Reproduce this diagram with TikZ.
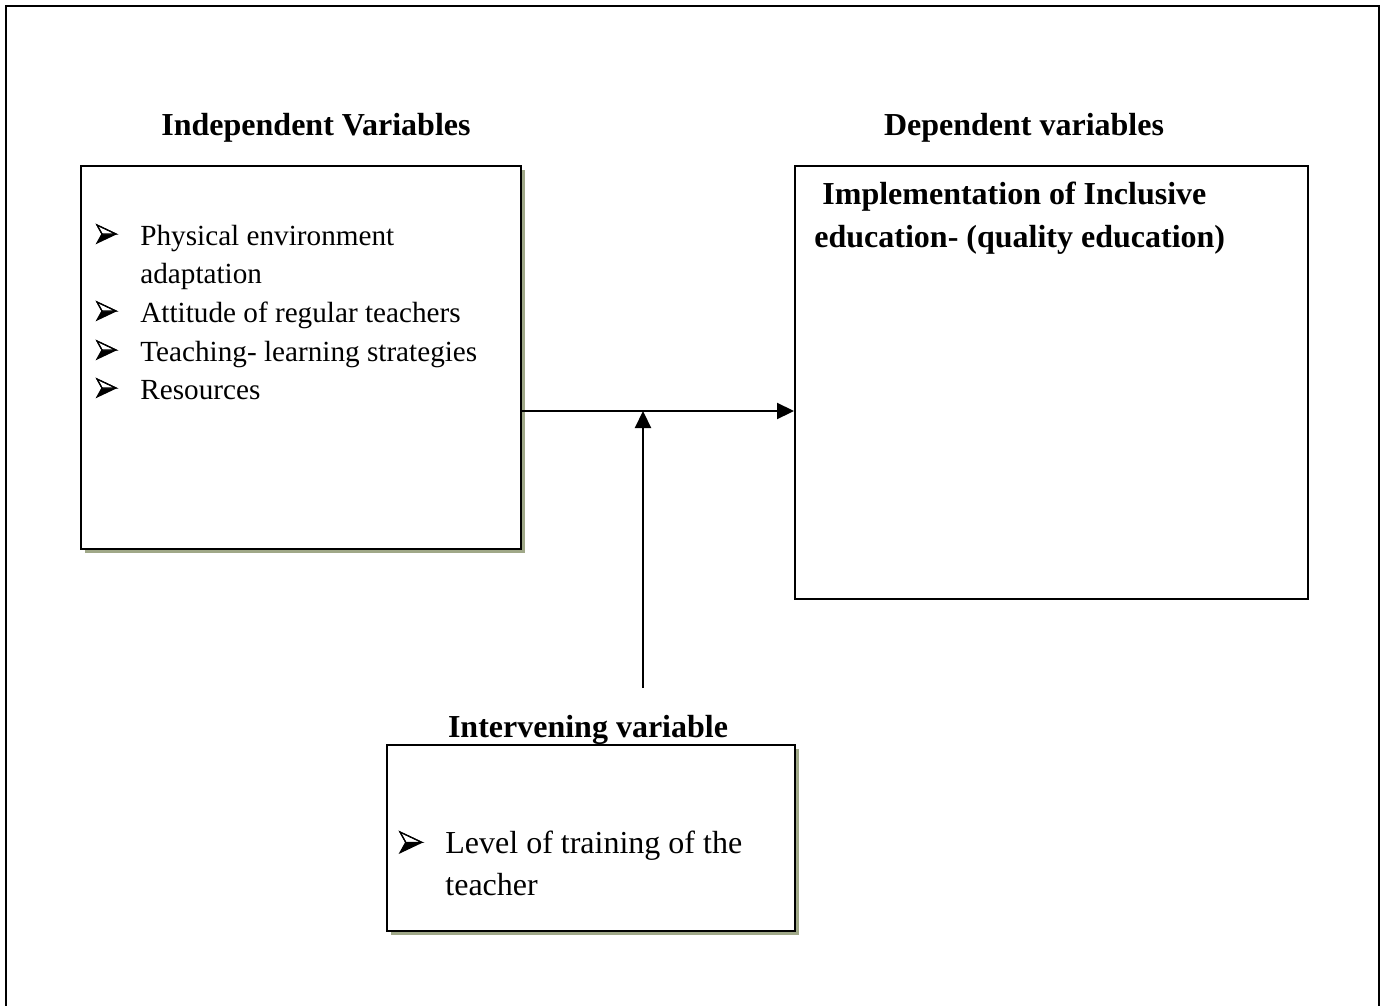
\documentclass[tikz,border=0pt]{standalone}
\usepackage{fontspec}
\setmainfont{Liberation Serif}
\usetikzlibrary{arrows.meta,shadows}
\definecolor{shadowcol}{RGB}{160,168,136}
\tikzset{
  boxsty/.style={draw=black, line width=1.1pt, fill=white, rectangle, inner sep=0pt, anchor=north west,
    drop shadow={shadow xshift=2pt, shadow yshift=-2pt, fill=shadowcol, opacity=1}},
  plainbox/.style={draw=black, line width=1.1pt, fill=white, rectangle, inner sep=0pt, anchor=north west},
  txt/.style={anchor=base west, inner sep=0pt, font=\fontsize{14.6}{17}\selectfont},
  bigtxt/.style={anchor=base west, inner sep=0pt, font=\fontsize{16}{18}\selectfont},
  ttl/.style={anchor=base, inner sep=0pt, font=\fontsize{16}{18}\selectfont\bfseries},
  btxt/.style={anchor=base west, inner sep=0pt, font=\fontsize{16}{18}\selectfont\bfseries},
  arr/.style={line width=1.1pt, -{Triangle[length=8.5pt,width=8pt]}},
  pics/bullet/.style={code={
    \fill[black] (5,9) -- (19,9) -- (0,18) -- cycle;
    \filldraw[fill=white, draw=black, line width=0.6pt, line join=miter] (0,0) -- (19,9) -- (5,9) -- cycle;
    \draw[black, line width=0.6pt, line join=miter] (0,0) -- (19,9) -- (0,18) -- (5,9) -- cycle;
  }}
}
\begin{document}
\begin{tikzpicture}[x=0.5pt,y=-0.5pt]
\useasboundingbox (0,0) rectangle (1387,1006);
% outer frame
\draw[line width=1pt] (6,1020) -- (6,6) -- (1379,6) -- (1379,1020);
% boxes
\node[boxsty, minimum width=220pt, minimum height=191.5pt] (ind) at (80,165) {};
\node[plainbox, minimum width=256.5pt, minimum height=216.5pt] (dep) at (794,165) {};
\node[boxsty, minimum width=204pt, minimum height=93pt] (intv) at (386,744) {};
% titles
\node[ttl] (t1) at (316,135) {Independent Variables};
\node[ttl] (t2) at (1024,135) {Dependent variables};
\node[ttl] (t3) at (588,737) {Intervening variable};
% independent list
\pic at (97,225) {bullet};
\node[txt] (l1) at (140,245) {Physical environment};
\node[txt] (l1b) at (140,283) {adaptation};
\pic at (97,302) {bullet};
\node[txt] (l2) at (140,322) {Attitude of regular teachers};
\pic at (97,341) {bullet};
\node[txt] (l3) at (140,361) {Teaching- learning strategies};
\pic at (97,379) {bullet};
\node[txt] (l4) at (140,399) {Resources};
% dependent text
\node[btxt] (d1) at (822,205) {Implementation of Inclusive};
\node[btxt] (d2) at (814,247) {education- (quality education)};
% intervening text
\pic[scale=1.15] at (400,832) {bullet};
\node[bigtxt] (i1) at (445,853) {Level of training of the};
\node[bigtxt] (i2) at (445,895) {teacher};
% connectors
\coordinate (j) at (643,411);
\coordinate (bot) at (643,688);
\draw[arr] (j -| ind.east) -- (j -| dep.west);
\draw[arr] (bot) -- (j);
\end{tikzpicture}
\end{document}
